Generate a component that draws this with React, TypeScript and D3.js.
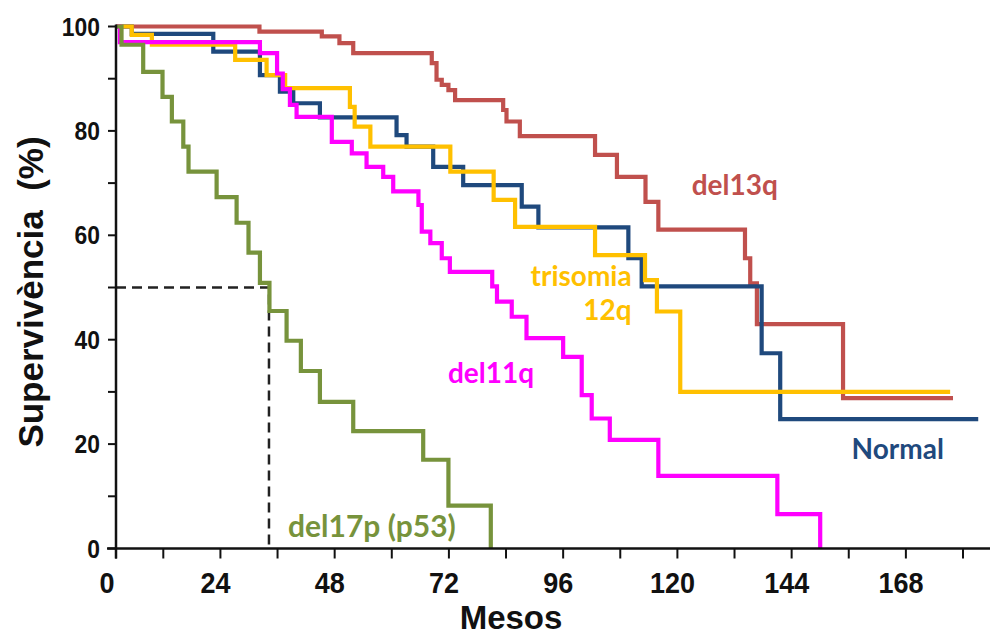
import React from "react";
import * as d3 from "d3";

// Kaplan-Meier curves (months, % survival)
const del13qMonths = [0, 32.2, 45.3, 49.0, 51.9, 68.4, 69.4, 70.5, 71.9, 73.3, 83.4, 84.1, 86.9, 102.7, 107.3, 113.3, 116.0, 134.2, 135.3, 136.7, 154.8, 177.9];
const del13qSurv = [100, 99.0, 98.1, 96.8, 94.9, 93.0, 89.8, 88.8, 87.8, 85.9, 84.0, 81.8, 79.0, 75.4, 71.2, 66.4, 61.1, 55.6, 50.8, 43.0, 28.8, 28.8];

const normalMonths = [0, 4.0, 22.5, 32.3, 36.5, 39.3, 44.9, 61.0, 63.1, 68.7, 75.0, 87.3, 90.8, 109.7, 112.5, 137.7, 141.6, 183.2];
const normalSurv = [100, 98.6, 95.2, 90.7, 87.5, 85.3, 82.6, 79.2, 77.0, 73.1, 69.6, 65.5, 61.5, 55.6, 50.2, 37.4, 24.8, 24.8];

const tri12Months = [0, 4.0, 9.1, 27.1, 33.7, 37.6, 51.2, 52.2, 55.5, 72.3, 81.4, 85.9, 102.7, 113.2, 115.7, 120.6, 177.3];
const tri12Surv = [100, 98.4, 96.5, 93.6, 90.7, 88.2, 84.6, 80.8, 77.0, 72.2, 66.8, 61.6, 56.2, 51.4, 45.4, 30.0, 30.0];

const del11qMonths = [0, 1.0, 32.3, 35.9, 37.1, 38.6, 40.0, 47.4, 51.6, 54.7, 58.2, 60.3, 65.6, 66.3, 68.1, 70.5, 72.2, 81.1, 82.1, 85.2, 88.3, 96.0, 99.9, 102.0, 105.8, 116.0, 141.0, 150.0];
const del11qSurv = [100, 97.0, 94.9, 91.0, 88.0, 85.0, 82.7, 77.9, 75.7, 73.1, 71.2, 68.4, 65.8, 60.7, 58.5, 55.6, 53.0, 50.2, 47.3, 44.4, 40.3, 36.7, 29.4, 24.9, 20.8, 13.9, 6.6, 0];

const del17pMonths = [0, 1.4, 6.9, 11.8, 13.8, 16.2, 17.3, 23.2, 27.4, 29.9, 32.3, 34.3, 37.9, 40.9, 44.9, 51.9, 66.6, 71.9, 80.8];
const del17pSurv = [100, 96.5, 91.3, 86.5, 81.8, 77.0, 72.2, 67.3, 62.4, 56.7, 50.9, 45.5, 39.8, 34.0, 28.1, 22.5, 17.0, 8.2, 0];

const medianMonth = 34.2;
const medianSurv = 50;

const xTicks = [0, 12, 24, 36, 48, 60, 72, 84, 96, 108, 120, 132, 144, 156, 168, 180];
const xLabels = [0, 24, 48, 72, 96, 120, 144, 168];
const yTicks = [0, 10, 20, 30, 40, 50, 60, 70, 80, 90, 100];
const yLabels = [0, 20, 40, 60, 80, 100];

// draw order: later ones on top
const series = [
  { name: "del13q", months: del13qMonths, surv: del13qSurv, color: "#C0504D" },
  { name: "Normal", months: normalMonths, surv: normalSurv, color: "#1F497D" },
  { name: "trisomia 12q", months: tri12Months, surv: tri12Surv, color: "#FFC000" },
  { name: "del11q", months: del11qMonths, surv: del11qSurv, color: "#FF00FF" },
  { name: "del17p (p53)", months: del17pMonths, surv: del17pSurv, color: "#77933C" },
];

// label anchors in data units [month, %]
const labels = [
  { text: "del13q", at: [123.0, 67.7], anchor: "start", color: "#C0504D", size: 28 },
  { text: "trisomia", at: [110.4, 50.3], anchor: "end", color: "#FFC000", size: 28 },
  { text: "12q", at: [110.4, 43.8], anchor: "end", color: "#FFC000", size: 28 },
  { text: "del11q", at: [71.8, 31.7], anchor: "start", color: "#FF00FF", size: 28 },
  { text: "Normal", at: [156.6, 17.1], anchor: "start", color: "#1F497D", size: 28 },
  { text: "del17p (p53)", at: [38.2, 2.2], anchor: "start", color: "#77933C", size: 30 },
];

const W = 990;
const H = 638;
const tickFont = "'Liberation Sans', Arial, sans-serif";
const labelFont = "Lato, 'Open Sans', sans-serif";

export default function App() {
  // the original axis is slightly squeezed between 0 and 12 months
  const x = d3.scaleLinear().domain([0, 12, 180]).range([116, 163.3, 963]);
  const y = d3.scaleLinear().domain([0, 100]).range([548.5, 26.5]);

  const line = d3
    .line<[number, number]>()
    .x((d) => x(d[0]))
    .y((d) => y(d[1]))
    .curve(d3.curveStepAfter);

  const x0 = x(0);
  const y0 = y(0);

  return (
    <svg
      width={W}
      height={H}
      style={{ position: "absolute", left: 0, top: 0, background: "#fff" }}
    >
      {/* median dashed guide */}
      <path
        d={`M${x0},${y(medianSurv)}H${x(medianMonth)}V${y0}`}
        fill="none"
        stroke="#222"
        strokeWidth={2.5}
        strokeDasharray="10,6"
      />

      {series.map((s) => (
        <path
          key={s.name}
          d={line(s.months.map((m, i) => [m, s.surv[i]] as [number, number])) || ""}
          fill="none"
          stroke={s.color}
          strokeWidth={4.2}
        />
      ))}

      {/* axes */}
      <line x1={107} x2={W} y1={y0} y2={y0} stroke="#111" strokeWidth={2.5} />
      <line x1={x0} x2={x0} y1={y(100) - 2} y2={y0 + 10} stroke="#111" strokeWidth={2.5} />
      {xTicks.map((t) => (
        <line key={"xt" + t} x1={x(t)} x2={x(t)} y1={y0} y2={y0 + 10} stroke="#111" strokeWidth={2} />
      ))}
      {yTicks.map((t) => (
        <line key={"yt" + t} x1={x0 - 8} x2={x0} y1={y(t)} y2={y(t)} stroke="#111" strokeWidth={2} />
      ))}
      {xLabels.map((t) => (
        <text
          key={"xl" + t}
          transform={`translate(${x(t) - (t === 0 ? 9 : 5)},${y0 + 44}) scale(0.9,1)`}
          textAnchor="middle"
          fontFamily={tickFont}
          fontWeight="bold"
          fontSize={30}
          fill="#111"
        >
          {t}
        </text>
      ))}
      {yLabels.map((t) => (
        <text
          key={"yl" + t}
          transform={`translate(${x0 - 16},${y(t) + 9}) scale(0.88,1)`}
          textAnchor="end"
          fontFamily={tickFont}
          fontWeight="bold"
          fontSize={26}
          fill="#111"
        >
          {t}
        </text>
      ))}

      {/* axis titles */}
      <text
        x={511}
        y={629}
        textAnchor="middle"
        fontFamily={tickFont}
        fontWeight="bold"
        fontSize={33}
        fill="#111"
      >
        Mesos
      </text>
      <text
        transform={`translate(43,292) rotate(-90)`}
        textAnchor="middle"
        fontFamily={tickFont}
        fontWeight="bold"
        fontSize={35}
        fill="#111"
        style={{ whiteSpace: "pre" }}
      >
        {"Supervivència  (%)"}
      </text>

      {/* series labels */}
      {labels.map((l) => (
        <text
          key={l.text}
          x={x(l.at[0])}
          y={y(l.at[1])}
          textAnchor={l.anchor}
          fontFamily={labelFont}
          fontWeight="bold"
          fontSize={l.size}
          fill={l.color}
          style={{ whiteSpace: "pre" }}
        >
          {l.text}
        </text>
      ))}
    </svg>
  );
}
